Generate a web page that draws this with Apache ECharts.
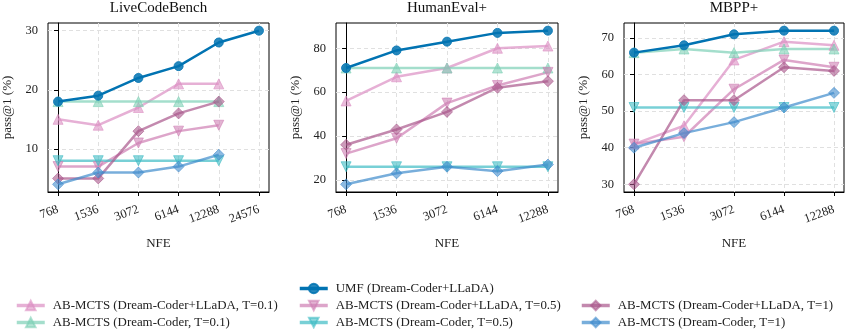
<!DOCTYPE html>
<html><head><meta charset="utf-8">
<script src="https://cdn.jsdelivr.net/npm/echarts@6/dist/echarts.min.js"></script>
<style>html,body{margin:0;padding:0;background:#fff}#c{width:847px;height:329px}</style>
</head><body><div id="c"></div>
<script>
const nfeLabels = ['768','1536','3072','6144','12288','24576'];
const benchmarks = ['LiveCodeBench','HumanEval+','MBPP+'];
const yTicks = [[10,20,30],[20,40,60,80],[30,40,50,60,70]];

const seriesNames = [
  'UMF (Dream-Coder+LLaDA)',
  'AB-MCTS (Dream-Coder+LLaDA, T=0.1)',
  'AB-MCTS (Dream-Coder, T=0.1)',
  'AB-MCTS (Dream-Coder+LLaDA, T=0.5)',
  'AB-MCTS (Dream-Coder, T=0.5)',
  'AB-MCTS (Dream-Coder+LLaDA, T=1)',
  'AB-MCTS (Dream-Coder, T=1)'
];

// LiveCodeBench
const lcbUMF     = [18, 19, 22, 24, 28, 30];
const lcbMixT01  = [15, 14, 17, 21, 21];
const lcbDcT01   = [18, 18, 18, 18, 18];
const lcbMixT05  = [7, 7, 11, 13, 14];
const lcbDcT05   = [8, 8, 8, 8, 8];
const lcbMixT1   = [5, 5, 13, 16, 18];
const lcbDcT1    = [4, 6, 6, 7, 9];
// HumanEval+
const heUMF      = [71, 79, 83, 87, 88];
const heMixT01   = [56, 67, 71, 80, 81];
const heDcT01    = [71, 71, 71, 71, 71];
const heMixT05   = [32, 39, 55, 63, 69];
const heDcT05    = [26, 26, 26, 26, 26];
const heMixT1    = [36, 43, 51, 62, 65];
const heDcT1     = [18, 23, 26, 24, 27];
// MBPP+
const mbUMF      = [66, 68, 71, 72, 72];
const mbMixT01   = [41, 46, 64, 69, 68];
const mbDcT01    = [66, 67, 66, 67, 67];
const mbMixT05   = [41, 43, 56, 64, 62];
const mbDcT05    = [51, 51, 51, 51, 51];
const mbMixT1    = [30, 53, 53, 62, 61];
const mbDcT1     = [40, 44, 47, 51, 55];

const benchData = [
  [lcbUMF, lcbMixT01, lcbDcT01, lcbMixT05, lcbDcT05, lcbMixT1, lcbDcT1],
  [heUMF, heMixT01, heDcT01, heMixT05, heDcT05, heMixT1, heDcT1],
  [mbUMF, mbMixT01, mbDcT01, mbMixT05, mbDcT05, mbMixT1, mbDcT1]
];

const styles = [
  {color:'#0173b2', symbol:'circle', size:9, rot:0, op:1, z:10},
  {color:'#dc8ec3', symbol:'triangle', size:10, rot:0, op:0.7, z:3},
  {color:'#7dd0b6', symbol:'triangle', size:10, rot:0, op:0.7, z:3},
  {color:'#cf7fb4', symbol:'triangle', size:10, rot:180, op:0.7, z:3},
  {color:'#3fbcc4', symbol:'triangle', size:10, rot:180, op:0.7, z:3},
  {color:'#a9578c', symbol:'diamond', size:11, rot:0, op:0.7, z:3},
  {color:'#3f8ccc', symbol:'diamond', size:11, rot:0, op:0.7, z:3}
];

const FONT = 'Liberation Serif';
const gridPos = [
  {left:48, width:221},
  {left:336, width:222},
  {left:624, width:220}
];

const grids = [], xAxes = [], yAxes = [], titles = [], series = [];
benchmarks.forEach((b, i) => {
  const data = benchData[i];
  const n = data[0].length;
  const all = data.flat();
  const lo = Math.min(...all), hi = Math.max(...all);
  const pad = (hi - lo) * 0.05;
  const xpad = (n - 1) * 0.05;
  grids.push({left:gridPos[i].left, width:gridPos[i].width, top:23, height:169,
    show:true, borderColor:'#000', borderWidth:1, backgroundColor:'transparent'});
  titles.push({text:b, left:gridPos[i].left + gridPos[i].width/2, top:0, padding:[1,0,0,0], textAlign:'center',
    textStyle:{fontFamily:FONT, fontSize:15, fontWeight:'normal', color:'#111'}});
  const xt = Array.from({length:n}, (_, k) => k);
  xAxes.push({type:'value', gridIndex:i, min:-xpad, max:(n-1)+xpad,
    name:'NFE', nameLocation:'middle', nameGap:45,
    nameTextStyle:{fontFamily:FONT, fontSize:13, color:'#222'},
    axisLine:{show:true, lineStyle:{color:'#000', width:1}},
    axisTick:{show:true, customValues:xt, length:4, lineStyle:{color:'#000'}},
    axisLabel:{customValues:xt, rotate:20, margin:17, fontFamily:FONT, fontSize:12.5, color:'#222',
      formatter:v => nfeLabels[Math.round(v)]},
    splitLine:{show:true, lineStyle:{color:'#e0e0e0', type:[4,3], width:1}}
  });
  yAxes.push({type:'value', gridIndex:i, min:lo - pad, max:hi + pad,
    name:'pass@1 (%)', nameLocation:'middle', nameGap:34,
    nameTextStyle:{fontFamily:FONT, fontSize:13, color:'#222'},
    axisLine:{show:true, lineStyle:{color:'#000', width:1}},
    axisTick:{show:true, customValues:yTicks[i], length:4, lineStyle:{color:'#000'}},
    axisLabel:{customValues:yTicks[i], margin:10, fontFamily:FONT, fontSize:12.5, color:'#222'},
    splitLine:{show:true, lineStyle:{color:'#e0e0e0', type:[4,3], width:1}}
  });
  data.forEach((vals, s) => {
    const st = styles[s];
    series.push({
      name:seriesNames[s], type:'line', xAxisIndex:i, yAxisIndex:i,
      data:vals.map((v, k) => [k, v]),
      symbol:st.symbol, symbolSize:st.size, symbolRotate:st.rot,
      showSymbol:true, z:st.z,
      lineStyle:{color:st.color, width:2.5, opacity:st.op},
      itemStyle:{color:st.color, opacity:st.op*0.85, borderColor:st.color, borderWidth:1},
      emphasis:{disabled:true}, animation:false
    });
  });
});

const legendBase = {orient:'vertical', itemWidth:28, itemHeight:12, itemGap:4, padding:0,
  lineStyle:{width:3.5},
  textStyle:{fontFamily:FONT, fontSize:12.9, color:'#222', padding:[0,0,0,3]}};
const legends = [
  Object.assign({}, legendBase, {left:15, bottom:0, data:[seriesNames[1], seriesNames[2]]}),
  Object.assign({}, legendBase, {left:298, bottom:0, data:[seriesNames[0], seriesNames[3], seriesNames[4]]}),
  Object.assign({}, legendBase, {left:580, bottom:0, data:[seriesNames[5], seriesNames[6]]})
];

const chart = echarts.init(document.getElementById('c'), null, {renderer:'canvas'});
chart.setOption({
  animation:false,
  title:titles, grid:grids, xAxis:xAxes, yAxis:yAxes, legend:legends, series:series
});
</script></body></html>
